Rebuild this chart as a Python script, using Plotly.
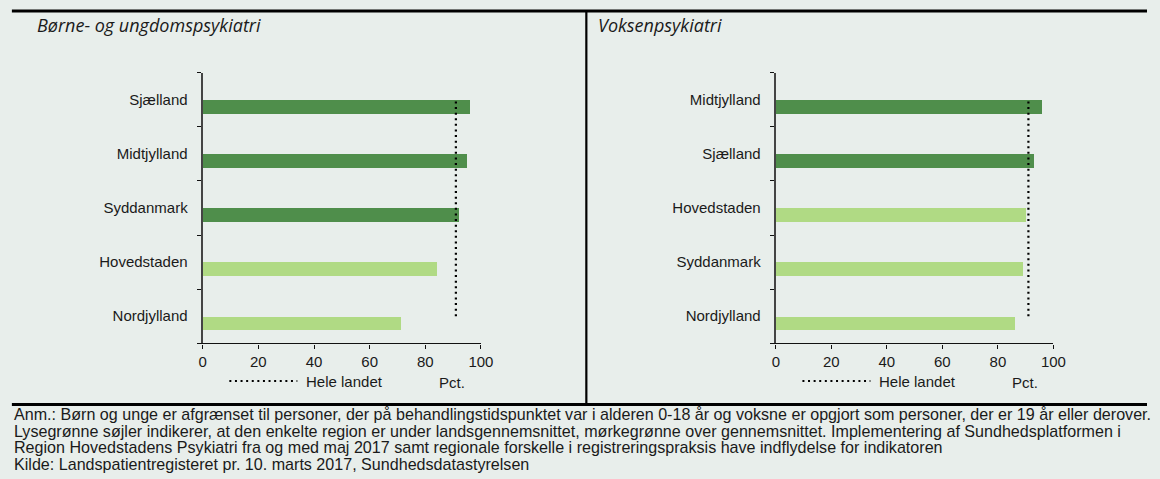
import plotly.graph_objects as go

# Data: share (pct.) per region, listed top to bottom as displayed
regions_bu = ["Sjælland", "Midtjylland", "Syddanmark", "Hovedstaden", "Nordjylland"]
values_bu = [96, 95, 92, 84, 71]
avg_bu = 91

regions_vp = ["Midtjylland", "Sjælland", "Hovedstaden", "Syddanmark", "Nordjylland"]
values_vp = [96, 93, 90, 89, 86]
avg_vp = 91

x_ticks = [0, 20, 40, 60, 80, 100]

panel_titles = ["Børne- og ungdomspsykiatri", "Voksenpsykiatri"]
legend_label = "Hele landet"
unit_label = "Pct."

footnote_lines = [
    "Anm.: Børn og unge er afgrænset til personer, der på behandlingstidspunktet var i alderen 0-18 år og voksne er opgjort som personer, der er 19 år eller derover.",
    "Lysegrønne søjler indikerer, at den enkelte region er under landsgennemsnittet, mørkegrønne over gennemsnittet. Implementering af Sundhedsplatformen i",
    "Region Hovedstadens Psykiatri fra og med maj 2017 samt regionale forskelle i registreringspraksis have indflydelse for indikatoren",
    "Kilde: Landspatientregisteret pr. 10. marts 2017, Sundhedsdatastyrelsen",
]

W, H = 1160, 479
BG = "#E8EEEB"
DARK = "#4F8E4B"
LIGHT = "#B0DA84"
TXT = "#1A1A1A"
FONT = "Liberation Sans, Arial, sans-serif"


def px(x):
    return x / W


def py(y):
    return 1 - y / H


fig = go.Figure()

panels = [
    (regions_bu, values_bu, avg_bu, "x", "y", (201.7, 484.0)),
    (regions_vp, values_vp, avg_vp, "x2", "y2", (783.3, 1065.0)),
]

for regions, values, avg, xa, ya, _ in panels:
    colors = [DARK if v > avg else LIGHT for v in values]
    fig.add_trace(go.Bar(
        y=regions, x=values, orientation="h",
        marker=dict(color=colors, line=dict(width=0)),
        width=0.255, offset=-0.255,
        xaxis=xa, yaxis=ya, showlegend=False, hoverinfo="x+y",
    ))
    # national average as a dotted vertical line
    fig.add_trace(go.Scatter(
        x=[avg, avg], y=[regions[-1], regions[0]], mode="lines",
        line=dict(color="#000000", width=2.2, dash="2px,3.6px"),
        xaxis=xa, yaxis=ya, showlegend=False, hoverinfo="skip",
    ))

y_dom = [py(343.3), py(72.7)]
axis_common_x = dict(
    range=[0, 100], tickvals=x_ticks, ticks="outside", ticklen=4, tickwidth=1.3,
    tickcolor="#111", showline=True, linecolor="#111", linewidth=1.4,
    showgrid=False, zeroline=False, tickfont=dict(family=FONT, size=15, color=TXT),
    fixedrange=True,
)
axis_common_y = dict(
    type="category", categoryorder="array", range=[-0.5, 4.5],
    ticks="outside", tickson="boundaries", ticklen=4, tickwidth=1.3, tickcolor="#111",
    showline=True, linecolor="#444", linewidth=2.2, showgrid=False, zeroline=False,
    tickfont=dict(family=FONT, size=15, color=TXT), ticklabelstandoff=10,
    fixedrange=True,
)

fig.update_layout(
    xaxis=dict(domain=[px(201.7), px(484.0)], anchor="y", **axis_common_x),
    yaxis=dict(domain=y_dom, anchor="x", categoryarray=regions_bu[::-1], **axis_common_y),
    xaxis2=dict(domain=[px(783.3), px(1065.0)], anchor="y2", **axis_common_x),
    yaxis2=dict(domain=y_dom, anchor="x2", categoryarray=regions_vp[::-1], **axis_common_y),
)

shapes = []
annotations = []

# frame lines
shapes.append(dict(type="line", xref="paper", yref="paper", x0=px(8), x1=1, y0=py(11), y1=py(11),
                   line=dict(color="#000", width=3)))
shapes.append(dict(type="line", xref="paper", yref="paper", x0=px(8), x1=1, y0=py(404.5), y1=py(404.5),
                   line=dict(color="#000", width=3)))
shapes.append(dict(type="line", xref="paper", yref="paper", x0=px(591), x1=px(591), y0=py(11), y1=py(404.5),
                   line=dict(color="#000", width=2.2)))

# panel titles
for title, x0 in zip(panel_titles, [31, 601]):
    annotations.append(dict(
        text=title, xref="paper", yref="paper", x=px(x0), y=py(25), xanchor="left", yanchor="middle",
        showarrow=False, font=dict(family="Open Sans, sans-serif", size=18, style="italic", color=TXT),
    ))

# legend row and unit label under each panel
for (_, _, _, _, _, (x_zero, x_hundred)) in panels:
    shapes.append(dict(type="line", xref="paper", yref="paper",
                       x0=px(x_zero + 27), x1=px(x_zero + 96), y0=py(381), y1=py(381),
                       line=dict(color="#000", width=2.2, dash="2px,3.6px")))
    annotations.append(dict(
        text=legend_label, xref="paper", yref="paper", x=px(x_zero + 103), y=py(381),
        xanchor="left", yanchor="middle", showarrow=False,
        font=dict(family=FONT, size=15, color=TXT),
    ))
    annotations.append(dict(
        text=unit_label, xref="paper", yref="paper", x=px(x_zero + 253), y=py(382),
        xanchor="center", yanchor="middle", showarrow=False,
        font=dict(family=FONT, size=15, color=TXT),
    ))

# footnote
for i, line in enumerate(footnote_lines):
    annotations.append(dict(
        text=line, xref="paper", yref="paper", x=px(8), y=py(414 + i * 16.6),
        xanchor="left", yanchor="middle", showarrow=False,
        font=dict(family=FONT, size=16.1, color=TXT),
    ))

fig.update_layout(
    width=W, height=H, margin=dict(l=0, r=0, t=0, b=0),
    paper_bgcolor=BG, plot_bgcolor=BG, bargap=0,
    shapes=shapes, annotations=annotations, showlegend=False,
)

fig.write_html("out.html", config={"displayModeBar": False})
